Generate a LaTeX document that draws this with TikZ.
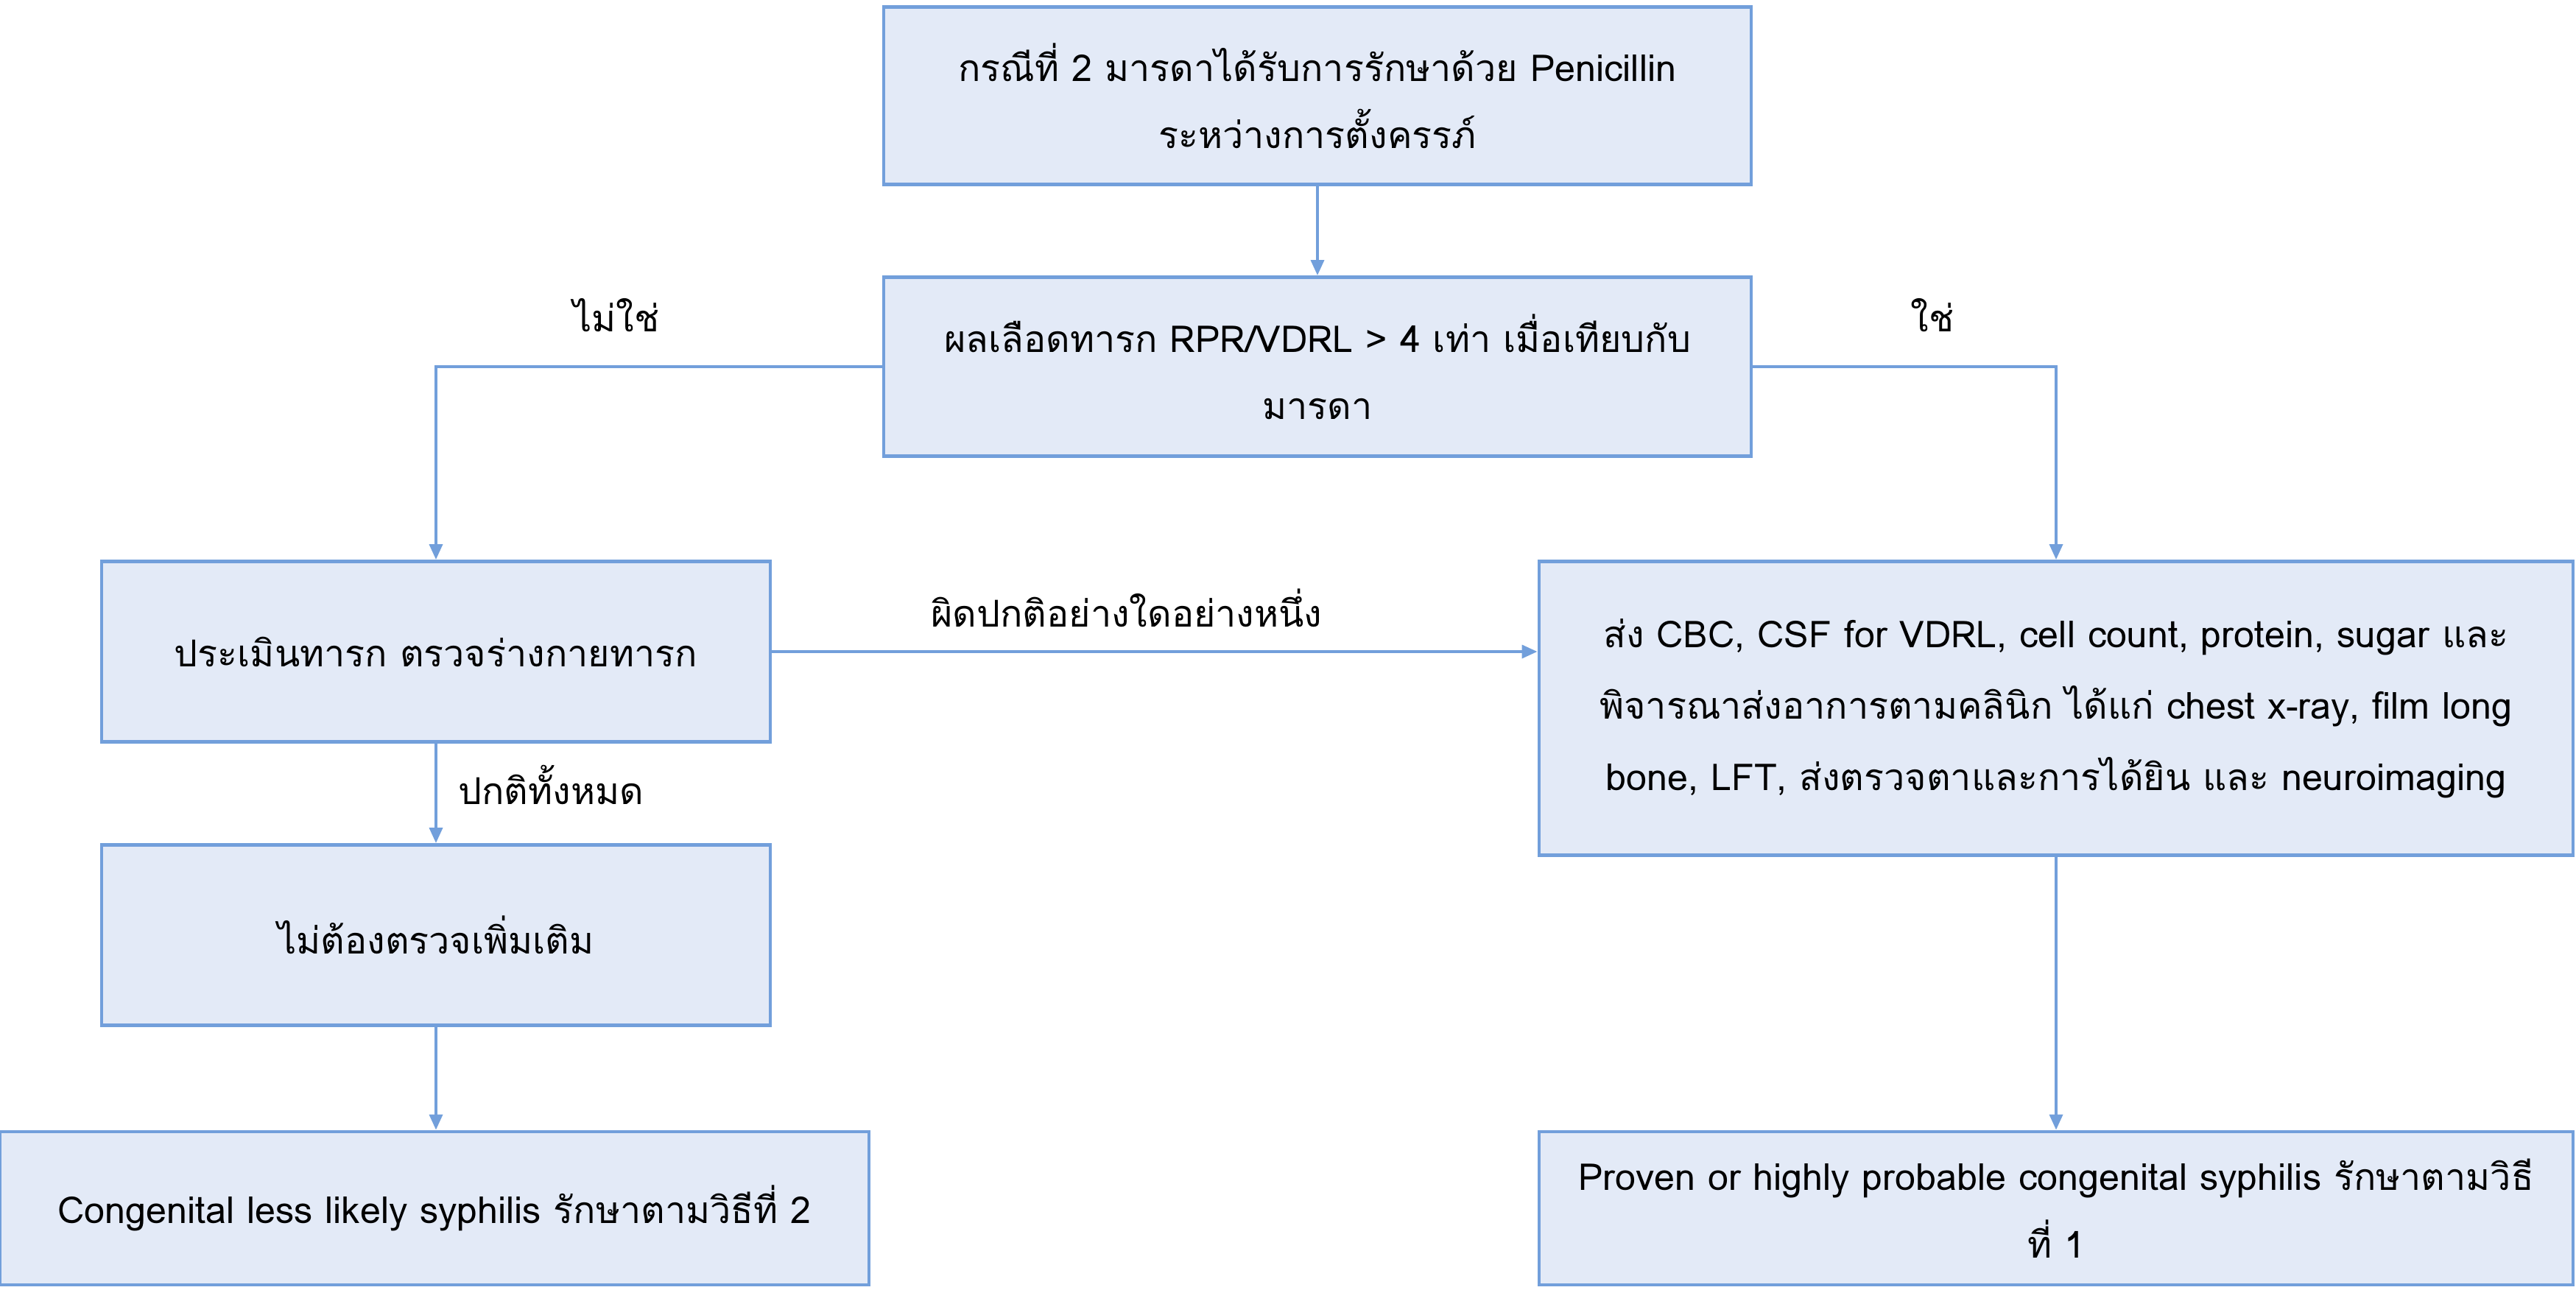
\documentclass[tikz,border=0pt]{standalone}
\usepackage{fontspec}
\setmainfont[Script=Thai]{Loma}
\usetikzlibrary{arrows.meta,positioning,calc}
\definecolor{boxfill}{RGB}{227,234,247}
\definecolor{boxline}{RGB}{114,159,219}

\begin{document}
\begin{tikzpicture}[
    box/.style={draw=boxline, fill=boxfill, line width=1.3pt, align=center,
      inner sep=0pt, font=\fontsize{14.3}{26}\selectfont},
    link/.style={draw=boxline, line width=1.3pt, -{Triangle[length=6pt,width=5pt]}},
    lbl/.style={font=\fontsize{14.3}{16}\selectfont}]

    \useasboundingbox (0,0) rectangle (34.98,-17.52);

    % main column
    \node [box, minimum width=11.78cm, minimum height=2.41cm] (start) at (17.89,-1.30)
      {กรณีที่ 2 มารดาได้รับการรักษาด้วย Penicillin\\ระหว่างการตั้งครรภ์};
    \node [box, minimum width=11.78cm, minimum height=2.43cm] (titer) at (17.89,-4.98)
      {ผลเลือดทารก RPR/VDRL > 4 เท่า เมื่อเทียบกับ\\มารดา};

    % left branch
    \node [box, minimum width=9.08cm, minimum height=2.45cm] (exam) at (5.92,-8.85)
      {ประเมินทารก ตรวจร่างกายทารก};
    \node [box, minimum width=9.08cm, minimum height=2.45cm] (normal) at (5.92,-12.70)
      {ไม่ต้องตรวจเพิ่มเติม};
    \node [box, minimum width=11.80cm, minimum height=2.08cm] (less) at (5.90,-16.41)
      {Congenital less likely syphilis รักษาตามวิธีที่ 2};

    % right branch
    \node [box, minimum width=14.04cm, minimum height=3.99cm,
      font=\fontsize{14.3}{27.6}\selectfont] (workup) at (27.92,-9.62)
      {ส่ง CBC, CSF for VDRL, cell count, protein, sugar และ\\
       พิจารณาส่งอาการตามคลินิก ได้แก่ chest x-ray, film long\\
       bone, LFT, ส่งตรวจตาและการได้ยิน และ neuroimaging};
    \node [box, minimum width=14.04cm, minimum height=2.08cm] (proven) at (27.92,-16.41)
      {Proven or highly probable congenital syphilis รักษาตามวิธี\\ที่ 1};

    % connectors
    \draw [link] (start) -- (titer);
    \draw [link] (titer.west) -| (exam.north);
    \draw [link] (titer.east) -| (workup.north);
    \draw [link] (exam) -- (normal);
    \draw [link] (exam.east) -- (exam.east -| workup.west);
    \draw [link] (normal.south) -- (normal.south |- less.north);
    \draw [link] (workup) -- (proven);

    % branch labels
    \node [lbl] (no)  at (8.37,-4.28)  {ไม่ใช่};
    \node [lbl] (yes) at (26.24,-4.28) {ใช่};
    \node [lbl] (abn) at (15.30,-8.26) {ผิดปกติอย่างใดอย่างหนึ่ง};
    \node [lbl, anchor=west] (all) at (6.10,-10.66) {ปกติทั้งหมด};
\end{tikzpicture}
\end{document}
